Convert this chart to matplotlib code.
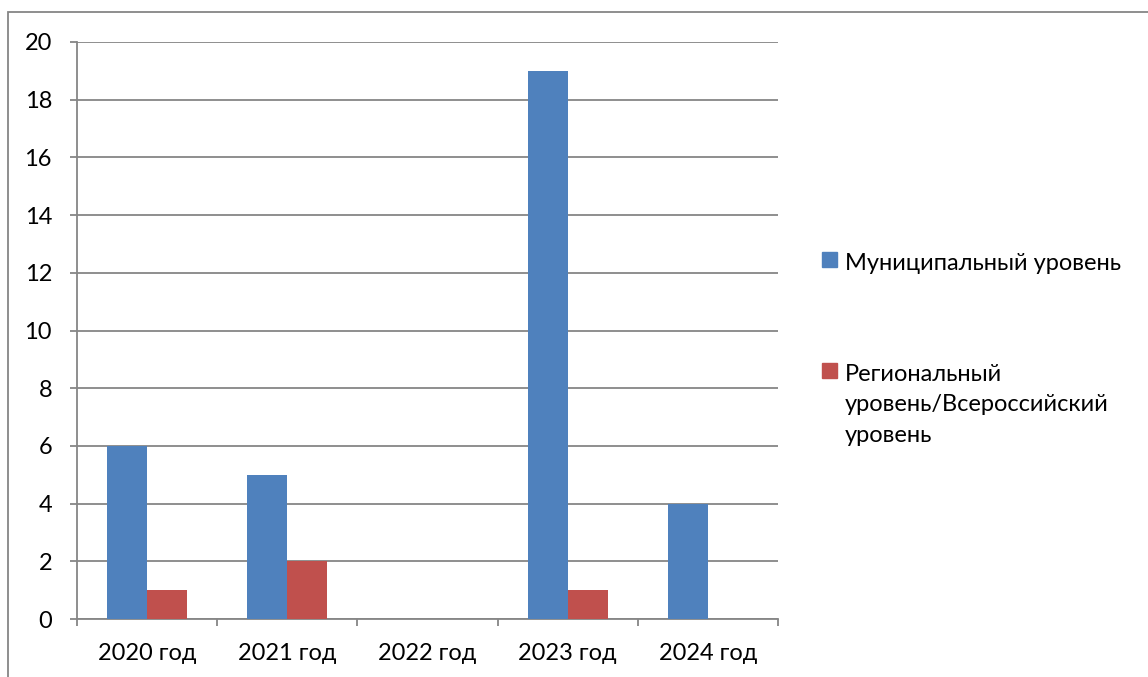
import numpy as np
import matplotlib
matplotlib.use('Agg')
import matplotlib.pyplot as plt
from matplotlib.patches import Rectangle

years = ['2020 год', '2021 год', '2022 год', '2023 год', '2024 год']
municipal = [6, 5, 0, 19, 4]
regional = [1, 2, 0, 1, 0]
series_names = ['Муниципальный уровень', 'Региональный\nуровень/Всероссийский\nуровень']
colors = ['#4F81BD', '#C0504D']

plt.rcParams['font.family'] = ['Lato', 'DejaVu Sans']
grey = '#868686'
fs = 17

W, H = 1148, 677
fig = plt.figure(figsize=(W / 100, H / 100), dpi=100)
ax = fig.add_axes([77 / W, 1 - 619 / H, (778 - 77) / W, (619 - 42) / H])

x = np.arange(len(years))
bw = 40 / 140.2
ax.bar(x - bw / 2, municipal, bw, color=colors[0], zorder=3)
ax.bar(x + bw / 2, regional, bw, color=colors[1], zorder=3)

ax.set_xlim(-0.5, len(years) - 0.5)
ax.set_ylim(0, 20)
ax.set_yticks(range(0, 21, 2))
ax.yaxis.grid(True, color=grey, lw=1.3)
ax.set_axisbelow(True)

ax.set_xticks(x)
ax.set_xticklabels(years, fontsize=fs)
ax.set_xticks(np.arange(-0.5, len(years)), minor=True)
ax.tick_params(axis='x', which='major', length=0, pad=17)
ax.tick_params(axis='x', which='minor', length=5, width=1.3, color=grey, direction='out')
ax.tick_params(axis='y', length=5, width=1.3, color=grey, labelsize=fs, pad=13)

for s in ('top', 'right'):
    ax.spines[s].set_visible(False)
for s in ('left', 'bottom'):
    ax.spines[s].set_color(grey)
    ax.spines[s].set_linewidth(1.3)

# legend, drawn by hand so the square sits at the first line of the label
legend_tops = [252, 363]
for name, c, top in zip(series_names, colors, legend_tops):
    fig.patches.append(Rectangle((822 / W, 1 - (top + 15) / H), 15 / W, 15 / H,
                                 transform=fig.transFigure, color=c))
    fig.text(845 / W, 1 - (top + 1) / H, name, fontsize=fs, va='top', ha='left',
             linespacing=1.55)

fig.patches.append(Rectangle((8 / W, -0.1), 1.2, 1 - 12 / H + 0.1,
                             transform=fig.transFigure, fill=False,
                             edgecolor=grey, lw=1.3))

fig.savefig('out.png', dpi=100)
